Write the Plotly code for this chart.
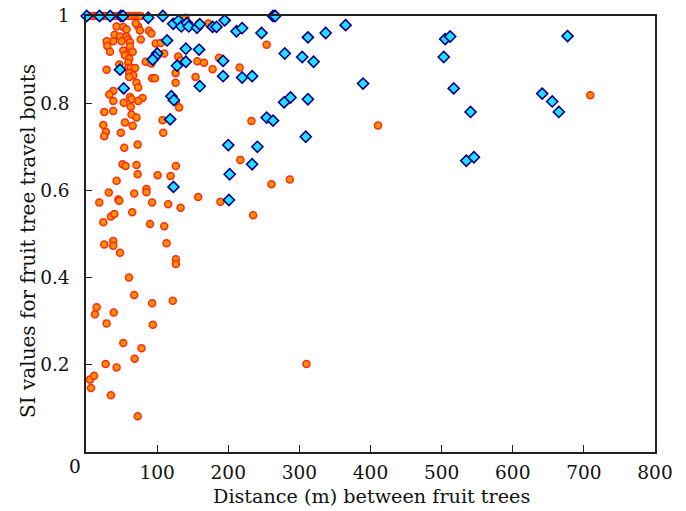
import plotly.graph_objects as go

# Orange circles (series A)
orange_x = [4.6, 9.4, 14, 22, 24, 28, 38, 43, 55, 59, 64, 69, 73, 77,
            140, 159, 172, 254,
            43, 52.4, 57, 73.5, 75.8, 70, 88.5, 40.3, 47.8, 57, 59.4, 38.3, 50, 61.8, 29, 77, 92, 98, 105,
            30, 61.8, 52.4, 33.7, 59.4, 65.6, 54.8, 110, 60.8, 59.4, 46.8, 84, 92, 129.6, 133, 156.5, 166,
            178, 187, 216, 29, 59.4, 63, 69, 60.8, 66.5, 126, 60.8, 93, 97, 126, 154, 71, 73.4, 38.3, 32.7,
            61.8, 64, 79.5, 73.4, 38.3, 53, 126.4, 131, 63, 25.7, 38.3, 64, 71, 54.8, 65.6, 24.3, 28, 25.7,
            49, 107.7, 108.6, 232.6, 53.8, 72.6, 51.4, 55.6, 71, 126.4, 217,
            72.6, 100.7, 119, 43, 32, 67.8, 85, 85, 18.7, 45.4, 46.8, 93, 115.6, 133, 157.7, 189, 235,
            24.3, 35.1, 39.8, 65, 90, 110, 25.7, 38.3, 38.3, 47.8, 113.3, 126.4, 126.4, 60.4, 67.8,
            15, 12.6, 39, 29, 93, 94, 122,
            52.4, 78, 27.6, 68.4, 43, 5.6, 11.4, 7, 35, 72.6,
            410.5, 709, 260.8, 286.5, 310]
orange_y = [1.0, 1.0, 1.0, 1.0, 1.0, 1.0, 1.0, 1.0, 1.0, 1.0, 1.0, 1.0, 1.0, 1.0,
            0.996, 0.983, 0.983, 0.934,
            0.976, 0.975, 0.969, 0.976, 0.967, 0.983, 0.966, 0.957, 0.953, 0.953, 0.946, 0.942, 0.942, 0.940, 0.942, 0.946, 0.960, 0.937, 0.938,
            0.931, 0.930, 0.921, 0.918, 0.914, 0.918, 0.910, 0.914, 0.902, 0.893, 0.889, 0.895, 0.891, 0.907, 0.898, 0.896, 0.893,
            0.878, 0.904, 0.882, 0.877, 0.881, 0.881, 0.881, 0.869, 0.864, 0.869, 0.860, 0.857, 0.857, 0.847, 0.860, 0.847, 0.836, 0.828, 0.820,
            0.814, 0.809, 0.812, 0.805, 0.805, 0.801, 0.803, 0.790, 0.792, 0.780, 0.782, 0.774, 0.767, 0.756, 0.748, 0.750, 0.734, 0.724,
            0.732, 0.761, 0.732, 0.759, 0.698, 0.705, 0.660, 0.656, 0.658, 0.656, 0.670,
            0.637, 0.635, 0.633, 0.622, 0.595, 0.593, 0.603, 0.596, 0.572, 0.579, 0.576, 0.572, 0.568, 0.560, 0.585, 0.574, 0.543,
            0.527, 0.540, 0.546, 0.550, 0.523, 0.518, 0.476, 0.484, 0.473, 0.457, 0.479, 0.442, 0.431, 0.400, 0.360,
            0.332, 0.316, 0.320, 0.295, 0.341, 0.292, 0.347,
            0.250, 0.238, 0.2016, 0.214, 0.194, 0.166, 0.175, 0.147, 0.130, 0.082,
            0.749, 0.818, 0.614, 0.625, 0.202]

# Cyan diamonds (series B)
cyan_x = [1, 19, 34, 49, 52, 87.5, 108, 122.6, 130, 134, 142, 144.5, 156, 160, 178, 183.5, 195, 211.6, 219.5, 246.8,
          114, 100, 97, 93.7, 140.4, 159, 140.4, 128, 192.8, 192.8, 219.5, 233.6, 47.8, 53, 160, 120, 123.6, 118.3,
          254, 200, 241, 233.6, 123, 202, 201,
          263, 266, 365, 337, 312, 279.5, 304, 320, 389.5, 505, 512, 503, 517, 287.5, 278.5, 312, 263, 309,
          677, 540.7, 641.4, 655.5, 664.8, 534.7, 545.4]
cyan_y = [1.0, 1.0, 1.0, 1.0, 1.0, 0.996, 1.0, 0.982, 0.989, 0.976, 0.984, 0.976, 0.973, 0.981, 0.975, 0.975, 0.990, 0.965, 0.972, 0.961,
          0.944, 0.914, 0.906, 0.900, 0.925, 0.923, 0.895, 0.886, 0.897, 0.862, 0.859, 0.862, 0.877, 0.834, 0.839, 0.816, 0.807, 0.763,
          0.767, 0.704, 0.700, 0.660, 0.608, 0.637, 0.578,
          1.0, 1.0, 0.979, 0.961, 0.951, 0.914, 0.906, 0.895, 0.845, 0.947, 0.953, 0.906, 0.834, 0.813, 0.802, 0.809, 0.760, 0.723,
          0.954, 0.780, 0.822, 0.804, 0.780, 0.668, 0.676]

x_ticks = [100, 200, 300, 400, 500, 600, 700, 800]
y_ticks = [0.2, 0.4, 0.6, 0.8, 1.0]
y_tick_labels = ["0.2", "0.4", "0.6", "0.8", "1"]
x_title = "Distance (m) between fruit trees"
y_title = "SI values for fruit tree travel bouts"

FONT = "DejaVu Serif"
TXT = "#111"
TICK_SIZE = 18.5

fig = go.Figure()
fig.add_trace(go.Scatter(
    x=orange_x, y=orange_y, mode="markers",
    marker=dict(symbol="circle", size=7, color="#FF9200",
                line=dict(color="#FF2A10", width=1.5)),
    showlegend=False, cliponaxis=False))
fig.add_trace(go.Scatter(
    x=cyan_x, y=cyan_y, mode="markers",
    marker=dict(symbol="diamond", size=8.5, color="#22E0FF",
                line=dict(color="#00008B", width=1.6)),
    showlegend=False, cliponaxis=False))

fig.update_layout(
    width=686, height=511,
    margin=dict(l=78, r=39, t=8, b=67, autoexpand=False),
    paper_bgcolor="white", plot_bgcolor="white",
    font=dict(family=FONT, size=TICK_SIZE, color=TXT),
    xaxis=dict(range=[0, 800], tickvals=x_ticks, ticktext=[str(v) for v in x_ticks],
               ticks="inside", ticklen=7, tickwidth=1.3, tickcolor="#222",
               showline=True, linecolor="#222", linewidth=1.5, mirror=True,
               showgrid=False, zeroline=False, automargin=False,
               ticklabelstandoff=3, ticklabeloverflow="allow",
               tickfont=dict(family=FONT, size=TICK_SIZE, color=TXT)),
    yaxis=dict(range=[0, 1], tickvals=y_ticks, ticktext=y_tick_labels,
               ticks="inside", ticklen=6, tickwidth=1.3, tickcolor="#222",
               showline=True, linecolor="#222", linewidth=1.5, mirror=True,
               showgrid=False, zeroline=False, automargin=False,
               ticklabelstandoff=11, ticklabeloverflow="allow",
               tickfont=dict(family=FONT, size=TICK_SIZE, color=TXT)),
)
fig.add_annotation(text="0", xref="paper", yref="paper", x=-0.019, y=-0.034,
                   showarrow=False, xanchor="center", yanchor="middle",
                   font=dict(family=FONT, size=TICK_SIZE, color=TXT))
fig.add_annotation(text=x_title, xref="paper", yref="paper", x=0.501, y=-0.103,
                   showarrow=False, xanchor="center", yanchor="middle",
                   font=dict(family=FONT, size=19.2, color=TXT))
fig.add_annotation(text=y_title, xref="paper", yref="paper", x=-0.103, y=0.485,
                   textangle=-90, showarrow=False, xanchor="center", yanchor="middle",
                   font=dict(family=FONT, size=20, color=TXT))

fig.write_html("out.html")
